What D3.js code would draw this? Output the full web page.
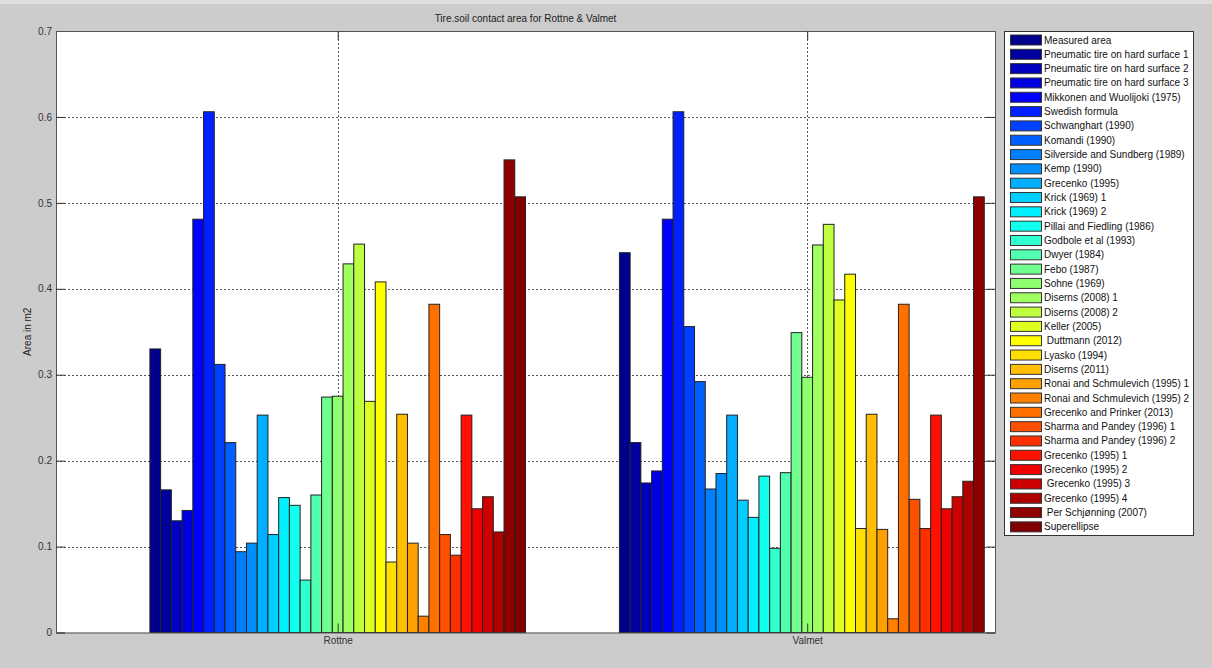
<!DOCTYPE html>
<html>
<head>
<meta charset="utf-8">
<script src="https://cdn.jsdelivr.net/npm/d3@7"></script>
<style>
  body { margin: 0; background: #cccccc; }
  text { font-family: Arial, "Liberation Sans", sans-serif; }
</style>
</head>
<body>
<script>
// DATA
const groups = ["Rottne", "Valmet"];

const seriesNames = [
    "Measured area",
    "Pneumatic tire on hard surface 1",
    "Pneumatic tire on hard surface 2",
    "Pneumatic tire on hard surface 3",
    "Mikkonen and Wuolijoki (1975)",
    "Swedish formula",
    "Schwanghart (1990)",
    "Komandi (1990)",
    "Silverside and Sundberg (1989)",
    "Kemp (1990)",
    "Grecenko (1995)",
    "Krick (1969) 1",
    "Krick (1969) 2",
    "Pillai and Fiedling (1986)",
    "Godbole et al (1993)",
    "Dwyer (1984)",
    "Febo (1987)",
    "Sohne (1969)",
    "Diserns (2008) 1",
    "Diserns (2008) 2",
    "Keller (2005)",
    " Duttmann (2012)",
    "Lyasko (1994)",
    "Diserns (2011)",
    "Ronai and Schmulevich (1995) 1",
    "Ronai and Schmulevich (1995) 2",
    "Grecenko and Prinker (2013)",
    "Sharma and Pandey (1996) 1",
    "Sharma and Pandey (1996) 2",
    "Grecenko (1995) 1",
    "Grecenko (1995) 2",
    " Grecenko (1995) 3",
    "Grecenko (1995) 4",
    " Per Schjønning (2007)",
    "Superellipse"
];

const rottneValues = [0.330, 0.166, 0.130, 0.142, 0.481, 0.606, 0.312, 0.221, 0.094, 0.104,
    0.253, 0.114, 0.157, 0.148, 0.061, 0.160, 0.274, 0.275, 0.429, 0.452,
    0.269, 0.408, 0.082, 0.254, 0.104, 0.019, 0.382, 0.114, 0.090, 0.253,
    0.144, 0.158, 0.117, 0.550, 0.507];

const valmetValues = [0.442, 0.221, 0.174, 0.188, 0.481, 0.606, 0.356, 0.292, 0.167, 0.185,
    0.253, 0.154, 0.134, 0.182, 0.098, 0.186, 0.349, 0.297, 0.451, 0.475,
    0.387, 0.417, 0.121, 0.254, 0.120, 0.016, 0.382, 0.155, 0.121, 0.253,
    0.144, 0.158, 0.176, 0, 0.507];

const yTicks = [0, 0.1, 0.2, 0.3, 0.4, 0.5, 0.6, 0.7];

const groupValues = [rottneValues, valmetValues];

// matlab jet(64), picked the way old bar() maps series onto the colormap
const jet64 = i => {
    const n = 16;
    const ramp = v => Math.max(0, Math.min(1, v));
    const r = ramp(Math.min((i - 24) / n, (72 - i) / n));
    const g = ramp(Math.min((i - 8) / n, (56 - i) / n));
    const b = ramp(Math.min((i + 8) / n, (40 - i) / n));
    return d3.rgb(r * 255, g * 255, b * 255).formatHex();
};
const seriesColor = k => jet64(Math.min(64, Math.floor(k * 64 / (seriesNames.length - 1)) + 1));

// LAYOUT
const W = 1212, H = 668;
const plot = { left: 56, right: 995, top: 31, bottom: 632.5 };

const svg = d3.select("body").append("svg")
    .attr("width", W)
    .attr("height", H);

svg.append("rect").attr("width", W).attr("height", H).attr("fill", "#cccccc");
svg.append("rect").attr("width", W).attr("height", 4).attr("fill", "#dedede");

const x = d3.scaleLinear().domain([0.4, 2.4]).range([plot.left, plot.right]);
const y = d3.scaleLinear().domain([0, 0.7]).range([plot.bottom, plot.top]);

svg.append("rect")
    .attr("x", plot.left)
    .attr("y", plot.top)
    .attr("width", plot.right - plot.left)
    .attr("height", plot.bottom - plot.top)
    .attr("fill", "#fff");

// grid (behind bars)
const grid = svg.append("g")
    .attr("stroke", "#555")
    .attr("stroke-width", 1)
    .attr("stroke-dasharray", "2,2");

grid.selectAll(".hgrid")
    .data(yTicks.slice(1, -1))
    .enter().append("line")
    .attr("x1", plot.left)
    .attr("x2", plot.right)
    .attr("y1", d => Math.round(y(d)) + 0.5)
    .attr("y2", d => Math.round(y(d)) + 0.5);

grid.selectAll(".vgrid")
    .data(groups)
    .enter().append("line")
    .attr("x1", (d, i) => Math.round(x(i + 1)) + 0.5)
    .attr("x2", (d, i) => Math.round(x(i + 1)) + 0.5)
    .attr("y1", plot.top)
    .attr("y2", plot.bottom);

// BARS
const groupWidth = 0.8;
const bars = svg.append("g");

groups.forEach((gName, gi) => {
    const band = d3.scaleBand()
        .domain(d3.range(seriesNames.length))
        .range([x(gi + 1 - groupWidth / 2), x(gi + 1 + groupWidth / 2)])
        .padding(0);

    bars.append("g")
        .selectAll("rect")
        .data(groupValues[gi])
        .enter().append("rect")
        .filter(d => d > 0)
        .attr("x", (d, i) => band(i))
        .attr("y", d => y(d))
        .attr("width", band.bandwidth())
        .attr("height", d => y(0) - y(d))
        .attr("fill", (d, i) => seriesColor(i))
        .attr("stroke", "#222")
        .attr("stroke-width", 1);
});

// AXES
const yAxisL = d3.axisLeft(y).tickValues(yTicks).tickSize(0).tickPadding(4).tickFormat(d3.format("~g"));
const yAxisR = d3.axisRight(y).tickValues(yTicks).tickSize(-9).tickFormat("");
const yTickL = d3.axisLeft(y).tickValues(yTicks).tickSize(-9).tickFormat("");
const xAxis = d3.axisBottom(x).tickValues([1, 2]).tickSize(-9).tickPadding(4).tickFormat((d, i) => groups[i]);
const xAxisTop = d3.axisTop(x).tickValues([1, 2]).tickSize(-9).tickFormat("");

const styleAxis = g => {
    g.select(".domain").attr("stroke", "#555");
    g.selectAll(".tick line").attr("stroke", "#333");
    g.selectAll("text")
        .attr("fill", "#333")
        .style("font-size", "10px")
        .style("font-family", "Arial, 'Liberation Sans', sans-serif");
};

svg.append("g").attr("transform", `translate(${plot.left},0)`).call(yTickL).call(styleAxis);
svg.append("g").attr("transform", `translate(${plot.left},0)`).call(yAxisL).call(styleAxis)
    .select(".domain").remove();
svg.append("g").attr("transform", `translate(${plot.right},0)`).call(yAxisR).call(styleAxis);
svg.append("g").attr("transform", `translate(0,${plot.bottom})`).call(xAxis).call(styleAxis);
svg.append("g").attr("transform", `translate(0,${plot.top})`).call(xAxisTop).call(styleAxis);

// title + y label
svg.append("text")
    .attr("x", (plot.left + plot.right) / 2)
    .attr("y", 22)
    .attr("text-anchor", "middle")
    .style("font-size", "10px")
    .attr("fill", "#222")
    .text("Tire.soil contact area for Rottne & Valmet");

svg.append("text")
    .attr("transform", `translate(31,${(plot.top + plot.bottom) / 2}) rotate(-90)`)
    .attr("text-anchor", "middle")
    .style("font-size", "10px")
    .attr("fill", "#222")
    .text("Area in m2");

// LEGEND
const legend = { x: 1004, y: 31, w: 189, h: 504, rowH: 14.32, first: 40 };

const lg = svg.append("g");
lg.append("rect")
    .attr("x", legend.x + 0.5)
    .attr("y", legend.y + 0.5)
    .attr("width", legend.w)
    .attr("height", legend.h)
    .attr("fill", "#fff")
    .attr("stroke", "#333");

const entry = lg.selectAll(".entry")
    .data(seriesNames)
    .enter().append("g")
    .attr("class", "entry")
    .attr("transform", (d, i) => `translate(${legend.x},${legend.first + i * legend.rowH})`);

entry.append("rect")
    .attr("x", 6.5)
    .attr("y", -5)
    .attr("width", 31)
    .attr("height", 10)
    .attr("fill", (d, i) => seriesColor(i))
    .attr("stroke", "#333")
    .attr("stroke-width", 1);

entry.append("text")
    .attr("x", 40)
    .attr("dy", "0.35em")
    .style("font-size", "10px")
    .style("white-space", "pre")
    .attr("fill", "#111")
    .text(d => d);
</script>
</body>
</html>
